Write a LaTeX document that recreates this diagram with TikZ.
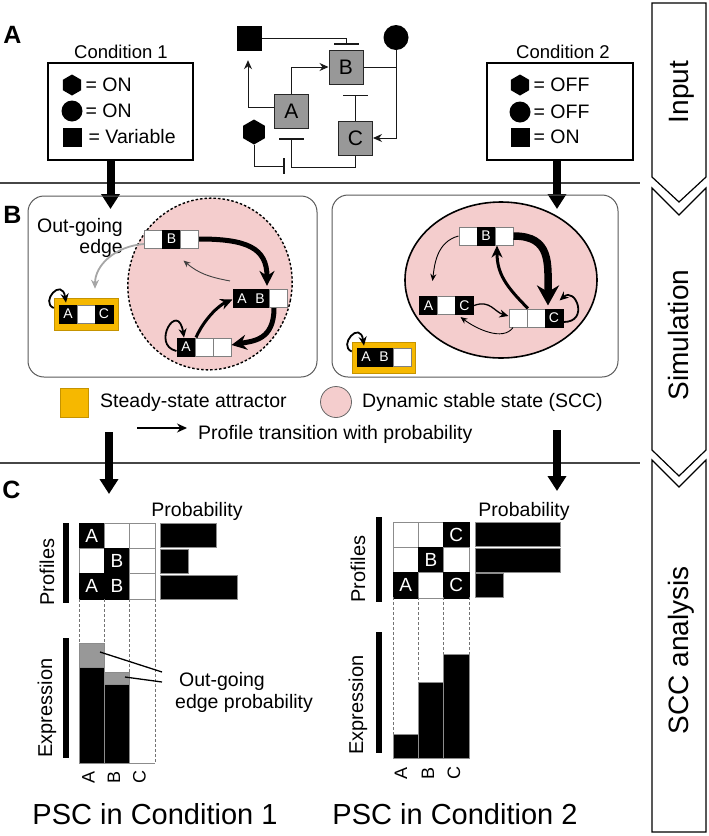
\documentclass[tikz,border=0pt]{standalone}
\usepackage{fontspec}
\setmainfont{Liberation Sans}
\usetikzlibrary{arrows.meta,shapes.geometric,fit,calc}
\definecolor{yel}{RGB}{246,184,0}
\definecolor{pnk}{RGB}{244,205,205}
\definecolor{gbx}{RGB}{152,152,152}
\definecolor{sepc}{RGB}{70,70,70}
\newcommand{\pstate}[9]{%
  \node[#4] (#1-1) at ({#2-18},#3) {#5};
  \node[#6] (#1-2) at (#2,#3) {#7};
  \node[#8] (#1-3) at ({#2+18},#3) {#9};
  \node[fit=(#1-1)(#1-3),inner sep=0pt] (#1) {};
}
\begin{document}
\begin{tikzpicture}[x=1pt,y=1pt,
  f19/.style={font=\fontsize{19.5}{21}\selectfont, inner sep=0pt},
  f18/.style={font=\fontsize{18.5}{21}\selectfont, inner sep=0pt},
  f20/.style={font=\fontsize{20}{21}\selectfont, inner sep=0pt, rotate=90},
  plab/.style={font=\fontsize{25}{25}\selectfont\bfseries, inner sep=0pt},
  sepl/.style={draw=sepc, line width=1.5pt},
  cond/.style={draw=black, line width=1.3pt, minimum width=145pt, minimum height=97pt, inner sep=0pt},
  sym/.style={fill=black, inner sep=0pt},
  hexa/.style={sym, regular polygon, regular polygon sides=6, shape border rotate=30, minimum size=21pt},
  dot/.style={sym, circle, minimum size=21pt},
  sqr/.style={sym, minimum size=19pt},
  gbox/.style={draw=black!85, line width=1pt, fill=gbx, minimum size=34pt, inner sep=0pt, font=\fontsize{21}{21}\selectfont},
  wire/.style={draw=black!90, line width=1pt},
  act/.style={wire, -{Stealth[length=9pt,width=8pt]}},
  inh/.style={wire, -{Bar[width=25pt,line width=1.6pt]}},
  fat/.style={line width=8pt, -{Triangle[length=15pt,width=18pt]}},
  panel/.style={draw=black!65, line width=1pt, rounded corners=16pt, inner sep=0pt},
  cell/.style={minimum width=18pt, minimum height=18pt, inner sep=0pt, line width=0.7pt, font=\fontsize{14}{14}\selectfont},
  con/.style={cell, fill=black, draw=black, text=white},
  coff/.style={cell, fill=white, draw=black!50},
  yelbox/.style={fill=yel, draw=yel!80!black, line width=0.6pt, minimum width=64pt, minimum height=32pt, inner sep=0pt},
  tr1/.style={line width=0.9pt, -{Stealth[length=7pt,width=6pt]}},
  tr2/.style={line width=1.8pt, -{Stealth[length=9pt,width=8pt]}},
  tr3/.style={line width=3pt, -{Stealth[length=12pt,width=11pt]}},
  tr4/.style={line width=5pt, -{Stealth[length=15pt,width=15pt]}},
  tr5/.style={line width=7.5pt, -{Stealth[length=20pt,width=22pt]}},
  gcell/.style={minimum width=25.3pt, minimum height=25.3pt, inner sep=0pt, line width=0.8pt, font=\fontsize{19}{19}\selectfont},
  gon/.style={gcell, fill=black, draw=black, text=white},
  goff/.style={gcell, fill=white, draw=black!45},
  pbar/.style={fill=black, draw=black!45, line width=0.8pt, minimum height=24pt, inner sep=0pt, anchor=west},
  sbar/.style={line width=5.5pt},
  guide/.style={draw=black!55, dash pattern=on 3pt off 2pt, line width=0.6pt},
  ebar/.style={fill=black, draw=black!45, line width=0.8pt},
  obar/.style={fill=gbx, draw=black!45, line width=0.8pt},
  chev/.style={draw=black, line width=1.2pt, fill=white},
  side/.style={font=\fontsize{28}{28}\selectfont, rotate=90, inner sep=0pt, text height=20pt, text depth=6pt},
  axl/.style={font=\fontsize{18}{18}\selectfont, rotate=90, inner sep=0pt},
]
\useasboundingbox (0,0) rectangle (709,-836);

% ---------- panel letters and separators
\node[plab] (lA) at (12.5,-35) {A};
\node[plab] (lB) at (12.5,-214.5) {B};
\node[plab] (lC) at (11.5,-490) {C};
\draw[sepl] (0,-183) -- (640,-183);
\draw[sepl] (0,-463) -- (640,-463);

% ---------- A: conditions
\node[f18] (t1) at (121,-52) {Condition 1};
\node[cond] (c1) at (120.5,-111.5) {};
\node[hexa] (h1) at (72,-85) {};
\node[f19, anchor=west] (h1t) at (85.5,-85) {= ON};
\node[dot] (d1) at (72,-111) {};
\node[f19, anchor=west] (d1t) at (85.5,-111) {= ON};
\node[sqr] (s1) at (72.5,-137.5) {};
\node[f19, anchor=west] (s1t) at (88.5,-137) {= Variable};

\node[f18] (t2) at (563,-52) {Condition 2};
\node[cond, minimum width=146pt] (c2) at (560,-111.5) {};
\node[hexa] (h2) at (520,-85) {};
\node[f19, anchor=west] (h2t) at (533.5,-85) {= OFF};
\node[dot] (d2) at (520,-112) {};
\node[f19, anchor=west] (d2t) at (533.5,-112) {= OFF};
\node[sqr] (s2) at (520.5,-137.5) {};
\node[f19, anchor=west] (s2t) at (533.5,-137) {= ON};

% ---------- A: network
\node[gbox] (nA) at (291.5,-111.5) {A};
\node[gbox] (nB) at (346,-67) {B};
\node[gbox] (nC) at (355.5,-138) {C};
\node[sym, minimum size=25pt] (sq) at (249.5,-38.5) {};
\node[sym, circle, minimum size=25pt] (ci) at (396,-37.5) {};
\node[sym, regular polygon, regular polygon sides=6, shape border rotate=30, minimum size=25pt] (hx) at (254,-132) {};
\coordinate (hxe) at (285,-166);

\draw[inh] (sq.east) -| ([yshift=5pt]nB.north);
\draw[act] ([yshift=4pt]nA.west) -| ([xshift=-1.5pt,yshift=-9pt]sq.south);
\draw[act] (nA.north) |- (nB.west);
\draw[act] (ci.south) |- (nC.east);
\draw[wire] (nB.east) -- (nB.east -| ci.south);
\draw[inh] (nC.north) -- ++(0,26);
\draw[inh] (nC.south) -- ++(0,-12) -| ([yshift=-9pt]nA.south);
\draw[wire, -{Bar[width=16pt,line width=1.6pt]}] (hx.south) |- (hxe);

% ---------- thick flow arrows
\coordinate (a1e) at (110.5,-209);
\draw[fat] (c1.south -| a1e) -- (a1e);
\coordinate (a2e) at (557,-209);
\draw[fat] (c2.south -| a2e) -- (a2e);

% ---------- B: panels
\node[panel, minimum width=289pt, minimum height=181pt] (p1) at (172.5,-286.5) {};
\node[panel, minimum width=286pt, minimum height=182pt] (p2) at (475,-286) {};
\draw[fill=pnk, draw=black, dash pattern=on 2.5pt off 2pt, line width=1.4pt, rotate around={-12:(210,-284)}] (210,-284) ellipse [x radius=82, y radius=86];
\draw[fill=pnk, draw=black, line width=1.6pt] (501,-280) ellipse [x radius=96, y radius=78];

\node[f19, align=right, anchor=east, font=\fontsize{19.5}{21}\selectfont] (og) at (123,-237.5) {Out-going\\edge};

% left states
\pstate{LB}{171.5}{-239}{coff}{}{con}{B}{coff}{}
\pstate{LAB}{260}{-298.5}{con}{A}{con}{B}{coff}{}
\pstate{LA}{204}{-347}{con}{A}{coff}{}{coff}{}
\node[yelbox] (LY) at (86,-314) {};
\pstate{LAC}{86}{-314}{con}{A}{coff}{}{con}{C}

\draw[tr4] (LB.east) .. controls +(48,0) and +(0,38) .. ([xshift=7pt,yshift=3pt]LAB.north);
\draw[tr4] ([xshift=14pt]LAB.south) .. controls +(0,-32) and +(22,4) .. ([yshift=2pt]LA.east);
\draw[tr3] ([xshift=-8pt]LA.north) .. controls +(8,18) and +(-14,-6) .. ([yshift=-1pt]LAB.west);
\draw[tr1, draw=black!75] ([xshift=-30pt,yshift=8pt]LAB.north) .. controls +(-22,4) and +(14,-12) .. ([xshift=12pt,yshift=-12pt]LB.south);
\draw[tr2] ([yshift=-4pt]LA.west) .. controls +(-26,6) and +(-6,38) .. ([xshift=-2pt]LA-1.north);
\draw[tr2] ([yshift=6pt]LY.west) .. controls +(-14,6) and +(-4,26) .. ([xshift=-2pt,yshift=2pt]LAC-1.north);
\draw[tr2, draw=black!35] ([yshift=-5pt]LB.west) .. controls +(-28,-2) and +(0,24) .. ([xshift=9pt,yshift=9pt]LY.north);

% right states
\pstate{RB}{486}{-236}{coff}{}{con}{B}{coff}{}
\pstate{RAC}{446.5}{-305.5}{con}{A}{coff}{}{con}{C}
\pstate{RC}{536}{-318}{coff}{}{coff}{}{con}{C}
\node[yelbox, minimum width=63pt, minimum height=31pt] (RY) at (383.5,-357.5) {};
\pstate{RAB}{384}{-357}{con}{A}{con}{B}{coff}{}

\draw[tr5] (RB.east) .. controls +(38,0) and +(0,42) .. ([xshift=12pt,yshift=3pt]RC.north);
\draw[tr3] ([xshift=-8pt]RC.north) .. controls +(-22,22) and +(0,-28) .. ([xshift=11pt]RB.south);
\draw[tr1] (RB.west) .. controls +(-22,-6) and +(2,16) .. ([xshift=-14pt,yshift=15pt]RAC.north);
\draw[tr2, line width=1.3pt] (RAC.east) .. controls +(16,6) and +(-14,4) .. ([yshift=2pt]RC.west);
\draw[tr1] ([xshift=-23pt]RC.south) .. controls +(-10,-14) and +(16,-12) .. ([xshift=14pt,yshift=-2pt]RAC.south);
\draw[tr2] ([yshift=-4pt]RC.east) .. controls +(26,0) and +(16,14) .. ([xshift=-4pt,yshift=8pt]RC.north east);
\draw[tr2] ([yshift=6pt]RY.west) .. controls +(-14,6) and +(-4,26) .. ([xshift=-2pt,yshift=2pt]RAB-1.north);

% ---------- legend
\node[fill=yel, draw=yel!80!black, line width=0.6pt, minimum width=28pt, minimum height=29pt, inner sep=0pt] (ly) at (74,-402.5) {};
\node[f19, anchor=west] (lyt) at (100,-402) {Steady-state attractor};
\node[circle, fill=pnk, draw=black!60, line width=0.8pt, minimum size=31pt, inner sep=0pt] (lp) at (336,-402) {};
\node[f19, anchor=west] (lpt) at (362,-402) {Dynamic stable state (SCC)};
\coordinate (la1) at (137,-428);
\coordinate (la2) at (187,-428);
\draw[line width=1.3pt, -{Stealth[length=10pt,width=9pt]}] (la1) -- (la2);
\node[f19, anchor=west] (lat) at (198,-434) {Profile transition with probability};

\coordinate (b1s) at (109,-432);
\coordinate (b1e) at (109,-494);
\draw[fat] (b1s) -- (b1e);
\coordinate (b2s) at (557,-430);
\coordinate (b2e) at (557,-491);
\draw[fat] (b2s) -- (b2e);

% ---------- C left
\node[f19] (pr1) at (197,-511) {Probability};
\node[gon]  (L11) at (91.65,-535.65) {A};
\node[goff] (L12) at (116.95,-535.65) {};
\node[goff] (L13) at (142.25,-535.65) {};
\node[goff] (L21) at (91.65,-560.95) {};
\node[gon]  (L22) at (116.95,-560.95) {B};
\node[goff] (L23) at (142.25,-560.95) {};
\node[gon]  (L31) at (91.65,-586.25) {A};
\node[gon]  (L32) at (116.95,-586.25) {B};
\node[goff] (L33) at (142.25,-586.25) {};
\node[pbar, minimum width=56pt] (LP1) at (160,-535.5) {};
\node[pbar, minimum width=28pt] (LP2) at (160,-561) {};
\node[pbar, minimum width=77pt] (LP3) at (160,-587) {};
\draw[sbar] (66,-523) -- (66,-603);
\draw[sbar] (66,-638) -- (66,-758);
\node[f20] (lpf) at (47,-572) {Profiles};
\node[f20] (lex) at (47,-708) {Expression};
\foreach \gx in {79,104.3,129.6,154.9} \draw[guide] (\gx,-599) -- (\gx,-763);
\draw[ebar] (79,-667) rectangle (104.3,-763);
\draw[obar] (79,-643) rectangle (104.3,-667);
\draw[ebar] (104.3,-684) rectangle (129.6,-763);
\draw[obar] (104.3,-672) rectangle (129.6,-684);
\draw[draw=black!45, line width=0.8pt] (79,-763) -- (154.9,-763);
\node[f19, anchor=west] (og2) at (179,-681) {Out-going};
\node[f19, anchor=west] (ep2) at (175,-703) {edge probability};
\coordinate (k1) at (100,-652);
\coordinate (k2) at (125,-677);
\draw[line width=1.3pt] (k1) -- ([xshift=-17pt,yshift=9pt]og2.west);
\draw[line width=1.3pt] (k2) -- ([xshift=-17pt,yshift=-1pt]og2.west);
\node[axl] (xa1) at (88.5,-777) {A};
\node[axl] (xb1) at (114,-777) {B};
\node[axl] (xc1) at (139.5,-777) {C};
\node[font=\fontsize{29}{29}\selectfont, inner sep=0pt] (psc1) at (155,-814) {PSC in Condition 1};

% ---------- C right
\node[f19] (pr2) at (524,-511) {Probability};
\node[goff] (R11) at (405.65,-534.65) {};
\node[goff] (R12) at (430.95,-534.65) {};
\node[gon]  (R13) at (456.25,-534.65) {C};
\node[goff] (R21) at (405.65,-559.95) {};
\node[gon]  (R22) at (430.95,-559.95) {B};
\node[goff] (R23) at (456.25,-559.95) {};
\node[gon]  (R31) at (405.65,-585.25) {A};
\node[goff] (R32) at (430.95,-585.25) {};
\node[gon]  (R33) at (456.25,-585.25) {C};
\node[pbar, minimum width=85pt] (RP1) at (475,-534.5) {};
\node[pbar, minimum width=85pt] (RP2) at (475,-560) {};
\node[pbar, minimum width=28pt] (RP3) at (475,-585.5) {};
\draw[sbar] (379,-517) -- (379,-602);
\draw[sbar] (379,-632) -- (379,-753);
\node[f20] (rpf) at (358,-569) {Profiles};
\node[f20] (rex) at (358,-705) {Expression};
\foreach \gx in {393,418.3,443.6,468.9} \draw[guide] (\gx,-597) -- (\gx,-758);
\draw[ebar] (393,-734) rectangle (418.3,-758);
\draw[ebar] (418.3,-682) rectangle (443.6,-758);
\draw[ebar] (443.6,-654) rectangle (468.9,-758);
\node[axl] (xa2) at (401,-773) {A};
\node[axl] (xb2) at (428,-773) {B};
\node[axl] (xc2) at (454,-773) {C};
\node[font=\fontsize{29}{29}\selectfont, inner sep=0pt] (psc2) at (455,-814) {PSC in Condition 2};

% ---------- right column
\draw[chev] (652,-3) -- (706,-3) -- (706,-177) -- (679,-202) -- (652,-177) -- cycle;
\draw[chev] (652,-188) -- (679,-215) -- (706,-188) -- (706,-450) -- (679,-476) -- (652,-450) -- cycle;
\draw[chev] (652,-460) -- (679,-487) -- (706,-460) -- (706,-832) -- (652,-832) -- cycle;
\node[side] (sIn) at (681,-92) {Input};
\node[side] (sSim) at (681,-335) {Simulation};
\node[side] (sScc) at (681,-650) {SCC analysis};
\end{tikzpicture}
\end{document}
